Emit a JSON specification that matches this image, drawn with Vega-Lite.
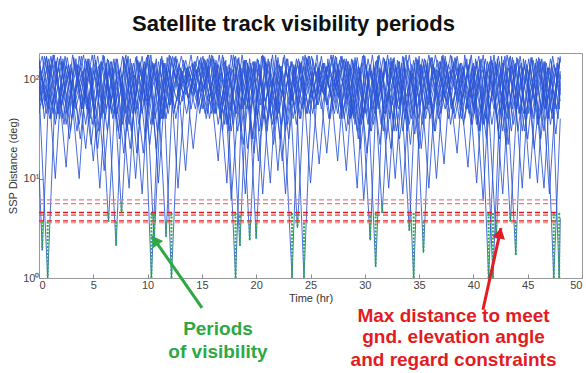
{
  "$schema": "https://vega.github.io/schema/vega-lite/v6.json",
  "width": 543,
  "height": 225,
  "autosize": {"type": "none"},
  "padding": {"left": 39, "top": 53, "right": 4, "bottom": 95},
  "background": "white",
  "config": {"view": {"stroke": "#9a9a9a", "strokeWidth": 1}, "font": "Liberation Sans"},
  "title": {"text": "Satellite track visibility periods", "font": "Liberation Sans", "fontSize": 22, "fontWeight": "bold", "color": "#111111", "anchor": "middle", "offset": 17, "dx": -17},
  "datasets": {
    "tracks": [
      {"s": "A", "t": [0,0.8,1.6,2.4,3.2,4.0,4.8,5.6,6.4,7.2,8.0,8.8,9.6,10.4,11.2,12.0,12.8,13.6,14.4,15.2,16.0,16.8,17.6,18.4,19.2,20.0,20.8,21.6,22.4,23.2,24.0,24.8,25.6,26.4,27.2,28.0,28.8,29.6,30.5,31.2,32.0,32.8,33.6,34.4,35.2,36.0,36.8,37.6,38.5,39.2,40.0,40.8,41.6,42.4,43.2,44.0,44.8,45.6,46.5,47.2,47.9,48.0],
       "v": [45,150,40,170,50,120,22,140,3.7,160,45,110,18,150,55,175,8,130,50,160,60,120,48,165,20,140,60,105,15,150,40,170,55,130,45,155,42,120,2.4,170,25,140,55,115,20,160,40,130,18,175,50,125,60,150,22,165,45,110,8,150,1.0,4]},
      {"s": "B", "t": [0,0.3,1.0,1.8,2.6,3.4,4.2,5.0,5.8,6.6,7.4,8.3,9.0,9.8,10.6,11.4,12.2,13.0,13.8,14.6,15.4,16.2,17.0,17.7,18.6,19.4,20.2,21.0,21.8,22.7,23.4,24.2,25.0,25.8,26.6,27.5,28.2,29.0,29.8,30.6,31.4,32.2,33.0,33.8,34.6,35.4,36.2,37.0,37.8,38.6,39.4,40.3,41.0,41.8,42.6,43.4,44.2,45.0,45.8,46.6,47.4,48.0],
       "v": [12,1.9,140,45,165,50,130,15,150,60,120,8,170,25,140,40,160,55,115,70,145,45,165,6,130,2.4,155,30,175,7,140,50,120,14,160,15,150,40,170,30,130,8,155,45,145,1.8,165,45,120,60,160,9,150,1.0,170,3.7,135,25,160,50,140,70]},
      {"s": "C", "t": [0,0.4,1.2,2.0,2.8,3.7,4.4,5.2,6.0,6.8,7.6,8.4,9.2,10.0,10.8,11.7,12.4,13.2,14.0,14.8,15.6,16.5,17.2,18.1,18.8,19.6,20.4,21.3,22.0,22.8,23.6,24.4,25.2,26.0,26.8,27.6,28.4,29.3,30.0,30.8,31.6,32.4,33.2,34.1,34.8,35.6,36.4,37.3,38.0,38.8,39.6,40.4,41.2,42.1,42.8,43.6,44.4,45.2,46.0,46.8,47.6,48.0],
       "v": [100,50,160,55,125,10,150,40,170,40,110,20,145,50,160,2.6,130,60,175,45,135,15,155,1.0,150,25,120,9,165,45,140,1.0,160,50,125,65,150,8,170,35,115,20,150,3.0,160,40,130,14,170,55,140,35,120,2.5,155,50,145,10,165,40,130,90]},
      {"s": "D", "t": [0,0.6,1.4,2.2,3.0,3.8,4.6,5.4,6.2,7.1,7.8,8.6,9.4,10.2,11.0,11.8,12.6,13.5,14.2,15.0,15.8,16.6,17.4,18.2,19.0,19.8,20.6,21.4,22.2,23.0,23.8,24.6,25.4,26.2,27.0,27.8,28.6,29.4,30.2,31.0,31.8,32.6,33.4,34.2,35.0,35.9,36.6,37.4,38.2,39.0,39.8,40.6,41.4,42.2,43.0,43.9,44.6,45.4,46.2,47.0,47.8,48.0],
       "v": [140,60,175,40,130,25,160,20,145,2.1,165,45,125,22,150,50,170,12,140,75,160,50,120,45,155,18,175,40,135,25,150,45,130,70,165,50,140,25,120,1.3,160,40,145,22,170,8,125,50,150,65,175,30,140,40,120,1.7,160,45,150,7,165,150]},
      {"s": "E", "t": [0,0.8,1.6,2.5,3.2,4.0,4.8,5.6,6.4,7.2,8.0,8.9,9.6,10.35,11.2,12.0,12.8,13.6,14.4,15.2,16.0,16.8,17.6,18.5,19.2,20.0,20.8,21.6,22.4,23.3,24.0,24.8,25.6,26.5,27.2,28.0,28.8,29.6,30.4,31.2,32.0,32.8,33.6,34.5,35.2,36.0,36.8,37.6,38.4,39.2,40.0,40.9,41.6,42.4,43.2,44.0,44.8,45.6,46.4,47.2,48.0],
       "v": [80,1.0,150,13,165,50,130,8,155,45,175,10,140,1.0,160,55,125,45,150,80,170,45,130,2.1,145,2.5,165,22,120,1.0,150,50,175,18,140,45,160,20,130,60,150,10,165,1.0,140,40,120,55,160,40,145,6,170,25,130,50,155,20,140,45,160]},
      {"s": "F", "t": [0,1.0,1.8,2.6,3.4,4.3,5.0,5.8,6.6,7.4,8.2,9.0,9.8,10.6,11.4,12.2,13.0,13.8,14.6,15.4,16.2,17.0,17.8,18.6,19.4,20.2,21.0,21.8,22.6,23.4,24.2,25.0,25.8,26.6,27.4,28.3,29.0,29.8,30.6,31.4,32.2,33.0,33.8,34.6,35.4,36.2,37.0,37.8,38.6,39.5,40.2,41.0,41.8,42.7,43.4,44.2,45.0,45.9,46.6,47.4,48.0],
       "v": [150,40,135,45,160,20,120,55,150,25,170,18,140,2.3,155,1.0,130,65,170,40,145,45,125,30,160,15,140,50,175,40,150,9,130,55,165,12,145,40,120,22,160,55,175,28,140,45,150,70,130,13,160,35,145,7,170,45,125,9,150,1.0,40]},
      {"s": "G", "t": [0,1.2,2.0,2.8,3.6,4.4,5.2,6.0,6.8,7.6,8.4,9.2,10.0,10.8,11.6,12.4,13.2,14.0,14.8,15.6,16.4,17.3,18.0,18.8,19.6,20.4,21.2,22.0,22.8,23.6,24.4,25.2,26.0,26.8,27.6,28.4,29.2,29.9,30.8,31.6,32.4,33.2,34.0,34.8,35.6,36.4,37.2,38.0,38.8,39.6,40.4,41.2,42.0,42.8,43.6,44.5,45.2,46.0,46.8,47.6,48.0],
       "v": [120,55,170,25,140,50,155,12,130,4.5,160,35,175,20,145,45,120,50,155,60,140,9,165,22,130,55,150,12,160,45,135,45,170,40,125,60,150,6,140,4.5,165,25,130,50,155,30,175,50,145,45,120,25,150,50,165,8,140,35,130,28,90]},
      {"s": "H", "t": [0,0.7,1.5,2.2,3.0,3.8,4.6,5.4,6.2,7.0,7.8,8.6,9.5,10.2,11.0,11.8,12.6,13.4,14.2,15.0,15.8,16.6,17.4,18.2,19.0,19.8,20.6,21.4,22.2,23.0,23.8,24.6,25.4,26.2,27.0,27.8,28.6,29.4,30.2,31.0,31.8,32.6,33.5,34.2,35.0,35.8,36.6,37.4,38.2,39.0,39.8,40.6,41.4,42.2,43.0,43.8,44.6,45.4,46.2,47.0,47.8,48.0],
       "v": [90,170,10,160,40,130,45,170,50,145,18,125,7,155,9,165,40,140,20,150,55,175,35,130,7,150,7,160,25,125,3.2,165,50,145,60,170,40,135,18,150,45,160,7,120,20,145,10,170,45,135,35,155,1.0,160,22,140,45,165,25,130,40,80]},
      {"s": "I", "t": [0.1,0.9,1.7,2.5,3.3,4.1,4.9,5.7,6.5,7.3,8.1,8.9,9.7,10.5,11.3,12.1,12.9,13.7,14.5,15.3,16.1,16.9,17.7,18.5,19.3,20.1,20.9,21.7,22.5,23.3,24.1,24.9,25.7,26.5,27.3,28.1,28.9,29.7,30.5,31.3,32.1,32.9,33.7,34.5,35.3,36.1,36.9,37.7,38.5,39.3,40.1,40.9,41.7,42.5,43.3,44.1,44.9,45.7,46.5,47.3,48.0],
       "v": [60,160,45,135,70,175,35,150,50,125,30,165,55,145,40,170,75,130,60,155,45,175,30,140,50,160,35,120,65,150,40,170,55,135,80,160,45,145,30,175,60,130,40,155,35,165,55,140,70,150,45,175,35,125,50,160,40,145,30,170,60]},
      {"s": "J", "t": [0,0.5,1.3,2.1,2.9,3.7,4.5,5.3,6.1,6.9,7.7,8.5,9.3,10.1,10.9,11.7,12.5,13.3,14.1,14.9,15.7,16.5,17.3,18.1,18.9,19.7,20.5,21.3,22.1,22.9,23.7,24.5,25.3,26.1,26.9,27.7,28.5,29.3,30.1,30.9,31.7,32.5,33.3,34.1,34.9,35.7,36.5,37.3,38.1,38.9,39.7,40.5,41.3,42.1,42.9,43.7,44.5,45.3,46.1,46.9,47.7,48.0],
       "v": [120,40,175,55,140,35,160,25,130,45,170,30,150,60,125,40,165,70,145,50,175,35,135,45,155,25,170,50,140,35,160,60,130,75,175,40,150,30,140,45,165,55,125,35,155,50,175,65,135,40,160,30,150,45,170,35,130,55,160,40,145,100]},
      {"s": "K", "t": [0,0.9,1.7,2.5,3.3,4.1,4.9,5.7,6.5,7.3,8.1,8.9,9.7,10.5,11.3,12.1,12.9,13.7,14.5,15.3,16.1,16.9,17.7,18.5,19.3,20.1,20.9,21.7,22.5,23.3,24.1,24.9,25.7,26.5,27.3,28.1,28.9,29.7,30.5,31.3,32.1,32.9,33.7,34.5,35.3,36.1,36.9,37.7,38.5,39.3,40.1,40.9,41.7,42.5,43.3,44.1,44.9,45.7,46.5,47.3,48.0],
       "v": [150,50,165,35,145,60,175,40,130,30,160,45,150,35,170,55,140,65,125,45,160,30,175,50,135,40,150,35,165,60,145,45,130,55,170,40,155,35,140,50,175,30,125,45,160,60,150,40,170,50,135,35,155,45,165,30,140,55,150,40,170]},
      {"s": "L", "t": [0,0.5,1.3,2.1,2.9,3.7,4.5,5.3,6.1,6.9,7.7,8.5,9.3,10.1,10.9,11.7,12.5,13.3,14.1,14.9,15.7,16.5,17.3,18.1,18.9,19.7,20.5,21.3,22.1,22.9,23.7,24.5,25.3,26.1,26.9,27.7,28.5,29.3,30.1,30.9,31.7,32.5,33.3,34.1,34.9,35.7,36.5,37.3,38.1,38.9,39.7,40.5,41.3,42.1,42.9,43.7,44.5,45.3,46.1,46.9,47.7,48.0],
       "v": [70,170,45,150,30,170,55,135,40,160,35,145,60,175,30,130,50,155,70,165,40,140,35,170,55,150,30,125,45,160,35,175,60,140,70,155,35,165,45,130,30,150,55,175,40,135,30,160,55,145,65,170,35,140,45,155,30,165,40,130,50,110]},
      {"s": "M", "t": [0,0.3,1.1,1.9,2.7,3.5,4.3,5.1,5.9,6.7,7.5,8.3,9.1,9.9,10.7,11.5,12.3,13.1,13.9,14.7,15.5,16.3,17.1,17.9,18.7,19.5,20.3,21.1,21.9,22.7,23.5,24.3,25.1,25.9,26.7,27.5,28.3,29.1,29.9,30.7,31.5,32.3,33.1,33.9,34.7,35.5,36.3,37.1,37.9,38.7,39.5,40.3,41.1,41.9,42.7,43.5,44.3,45.1,45.9,46.7,47.5,48.0],
       "v": [90,55,170,40,140,30,160,50,175,45,130,35,155,60,145,40,170,80,135,55,160,45,150,35,175,50,140,40,155,30,130,55,170,70,145,45,160,35,175,50,125,40,150,30,165,45,140,60,175,40,135,35,160,50,145,30,170,45,150,55,130,80]},
      {"s": "N", "t": [0,0.7,1.5,2.3,3.1,3.9,4.7,5.5,6.3,7.1,7.9,8.7,9.5,10.3,11.1,11.9,12.7,13.5,14.3,15.1,15.9,16.7,17.5,18.3,19.1,19.9,20.7,21.5,22.3,23.1,23.9,24.7,25.5,26.3,27.1,27.9,28.7,29.5,30.3,31.1,31.9,32.7,33.5,34.3,35.1,35.9,36.7,37.5,38.3,39.1,39.9,40.7,41.5,42.3,43.1,43.9,44.7,45.5,46.3,47.1,47.9,48.0],
       "v": [160,45,150,35,175,50,135,30,160,40,145,55,170,35,130,45,160,70,150,50,175,40,140,30,155,45,170,35,135,55,160,45,145,65,175,40,130,35,160,50,150,30,170,40,140,55,155,60,165,35,130,45,150,30,175,50,140,40,160,35,150,150]},
      {"s": "O", "t": [0,0.3,1.1,1.9,2.7,3.5,4.3,5.1,5.9,6.7,7.5,8.3,9.1,9.9,10.7,11.5,12.3,13.1,13.9,14.7,15.5,16.3,17.1,17.9,18.7,19.5,20.3,21.1,21.9,22.7,23.5,24.3,25.1,25.9,26.7,27.5,28.3,29.1,29.9,30.7,31.5,32.3,33.1,33.9,34.7,35.5,36.3,37.1,37.9,38.7,39.5,40.3,41.1,41.9,42.7,43.5,44.3,45.1,45.9,46.7,47.5,48.0],
       "v": [130,170,40,160,55,140,35,175,45,150,30,130,50,165,40,145,60,170,75,135,45,155,35,175,50,145,30,160,40,125,55,170,65,150,40,140,30,165,45,175,35,130,50,155,60,160,45,170,35,140,50,150,40,175,30,135,45,160,35,145,50,165]},
      {"s": "P", "t": [0,0.7,1.5,2.3,3.1,3.9,4.7,5.5,6.3,7.1,7.9,8.7,9.5,10.3,11.1,11.9,12.7,13.5,14.3,15.1,15.9,16.7,17.5,18.3,19.1,19.9,20.7,21.5,22.3,23.1,23.9,24.7,25.5,26.3,27.1,27.9,28.7,29.5,30.3,31.1,31.9,32.7,33.5,34.3,35.1,35.9,36.7,37.5,38.3,39.1,39.9,40.7,41.5,42.3,43.1,43.9,44.7,45.5,46.3,47.1,47.9,48.0],
       "v": [60,165,35,150,50,170,40,135,30,160,55,145,45,175,35,130,60,155,70,170,45,140,30,160,50,150,40,175,35,135,55,160,65,145,50,170,40,130,35,155,45,165,30,140,55,175,60,150,40,130,35,160,50,170,40,145,30,155,45,160,50,120]}
    ],
    "thr": [
      {"t": 0, "t2": 47.9, "v": 6.1, "k": "light"},
      {"t": 0, "t2": 47.9, "v": 5.6, "k": "light"},
      {"t": 0, "t2": 47.9, "v": 4.55, "k": "main"},
      {"t": 0, "t2": 47.9, "v": 4.3, "k": "mid"},
      {"t": 0, "t2": 47.9, "v": 3.75, "k": "main"},
      {"t": 0, "t2": 47.9, "v": 3.6, "k": "light"}
    ],
    "vis": [
      {"t": 0.3, "v": 3.7, "v2": 1.9}, {"t": 0.8, "v": 3.7, "v2": 1.0},
      {"t": 6.4, "v": 4.5, "v2": 3.7}, {"t": 7.1, "v": 3.7, "v2": 2.1},
      {"t": 7.6, "v": 5.8, "v2": 4.5}, {"t": 10.35, "v": 4.5, "v2": 1.0},
      {"t": 10.6, "v": 4.5, "v2": 2.3}, {"t": 11.7, "v": 3.7, "v2": 2.6},
      {"t": 12.2, "v": 4.5, "v2": 1.0}, {"t": 18.1, "v": 4.5, "v2": 1.0},
      {"t": 18.5, "v": 4.2, "v2": 2.1}, {"t": 19.4, "v": 3.8, "v2": 2.4},
      {"t": 20.0, "v": 3.6, "v2": 2.5}, {"t": 23.3, "v": 4.5, "v2": 1.0},
      {"t": 23.8, "v": 4.4, "v2": 3.2}, {"t": 24.4, "v": 3.6, "v2": 1.0},
      {"t": 30.5, "v": 4.2, "v2": 2.4}, {"t": 31.0, "v": 4.5, "v2": 1.3},
      {"t": 31.6, "v": 5.6, "v2": 4.5}, {"t": 34.1, "v": 3.7, "v2": 3.0},
      {"t": 34.5, "v": 4.5, "v2": 1.0}, {"t": 35.4, "v": 3.7, "v2": 1.8},
      {"t": 41.4, "v": 4.5, "v2": 1.0}, {"t": 41.8, "v": 4.5, "v2": 1.0},
      {"t": 42.1, "v": 3.7, "v2": 2.5}, {"t": 43.4, "v": 4.5, "v2": 3.7},
      {"t": 43.9, "v": 3.7, "v2": 1.7}, {"t": 47.4, "v": 4.5, "v2": 1.0},
      {"t": 47.9, "v": 4.5, "v2": 1.0}
    ],
    "notes": [
      {"t": 16.48, "v": 0.268, "txt": "Periods", "c": "g"},
      {"t": 16.48, "v": 0.158, "txt": "of visibility", "c": "g"},
      {"t": 38.17, "v": 0.362, "txt": "Max distance to meet", "c": "r"},
      {"t": 38.17, "v": 0.223, "txt": "gnd. elevation angle", "c": "r"},
      {"t": 38.17, "v": 0.131, "txt": "and regard constraints", "c": "r"}
    ],
    "arrows": [
      {"t": 15.01, "v": 0.50, "t2": 10.41, "v2": 2.64, "c": "g"},
      {"t": 40.88, "v": 0.48, "t2": 42.54, "v2": 3.17, "c": "r"}
    ],
    "heads": [
      {"t": 10.67, "v": 2.40, "c": "g"},
      {"t": 42.44, "v": 2.83, "c": "r"}
    ]
  },
  "encoding": {
    "x": {"field": "t", "type": "quantitative",
          "scale": {"domain": [0, 50], "nice": false, "zero": false},
          "axis": {"title": "Time (hr)", "values": [0,5,10,15,20,25,30,35,40,45,50], "grid": false, "domain": false,
                   "tickSize": -4, "tickColor": "#8a8a8a", "labelFontSize": 11, "labelColor": "#444444", "labelPadding": 5,
                   "titleFontSize": 11, "titleFontWeight": "normal", "titleColor": "#333333", "titlePadding": 2}},
    "y": {"field": "v", "type": "quantitative",
          "scale": {"type": "log", "domain": [1, 183], "nice": false},
          "axis": {"title": "SSP Distance (deg)", "values": [1, 10, 100], "grid": false, "domain": false,
                   "labelExpr": "datum.value == 1 ? '10⁰' : datum.value == 10 ? '10¹' : '10²'",
                   "tickSize": -4, "tickColor": "#8a8a8a", "labelFontSize": 11, "labelColor": "#444444", "labelPadding": 4,
                   "titleFontSize": 11, "titleFontWeight": "normal", "titleColor": "#333333", "titlePadding": 4}}
  },
  "resolve": {"scale": {"color": "independent", "strokeWidth": "independent"}},
  "layer": [
    {
      "data": {"name": "tracks"},
      "transform": [{"flatten": ["t", "v"]}],
      "mark": {"type": "line", "color": "#2854d4", "strokeWidth": 1, "opacity": 0.85, "clip": true},
      "encoding": {"detail": {"field": "s"}}
    },
    {
      "data": {"name": "thr"},
      "mark": {"type": "rule", "strokeDash": [5, 3]},
      "encoding": {
        "x2": {"field": "t2"},
        "color": {"field": "k", "type": "nominal", "scale": {"domain": ["light", "mid", "main"], "range": ["#f07878", "#ec4040", "#e8141c"]}, "legend": null},
        "strokeWidth": {"field": "k", "type": "nominal", "scale": {"domain": ["light", "mid", "main"], "range": [1.1, 1.4, 2.2]}, "legend": null}
      }
    },
    {
      "data": {"name": "vis"},
      "mark": {"type": "rule", "color": "#2ab045", "strokeWidth": 2, "strokeDash": [2, 1.5]},
      "encoding": {"y2": {"field": "v2"}}
    },
    {
      "data": {"name": "arrows"},
      "mark": {"type": "rule", "strokeWidth": 3},
      "encoding": {
        "x2": {"field": "t2"}, "y2": {"field": "v2"},
        "color": {"field": "c", "type": "nominal", "scale": {"domain": ["g", "r"], "range": ["#2ea843", "#e31b23"]}, "legend": null}
      }
    },
    {
      "data": {"name": "heads"},
      "transform": [{"filter": "datum.c == 'g'"}],
      "mark": {"type": "point", "shape": "triangle-up", "filled": true, "size": 160, "angle": -35, "color": "#2ea843", "opacity": 1}
    },
    {
      "data": {"name": "heads"},
      "transform": [{"filter": "datum.c == 'r'"}],
      "mark": {"type": "point", "shape": "triangle-up", "filled": true, "size": 160, "angle": 12, "color": "#e31b23", "opacity": 1}
    },
    {
      "data": {"name": "notes"},
      "mark": {"type": "text", "font": "Liberation Sans", "fontSize": 19, "fontWeight": "bold", "align": "center", "baseline": "alphabetic"},
      "encoding": {
        "text": {"field": "txt"},
        "color": {"field": "c", "type": "nominal", "scale": {"domain": ["g", "r"], "range": ["#2ea843", "#e31b23"]}, "legend": null}
      }
    }
  ]
}
